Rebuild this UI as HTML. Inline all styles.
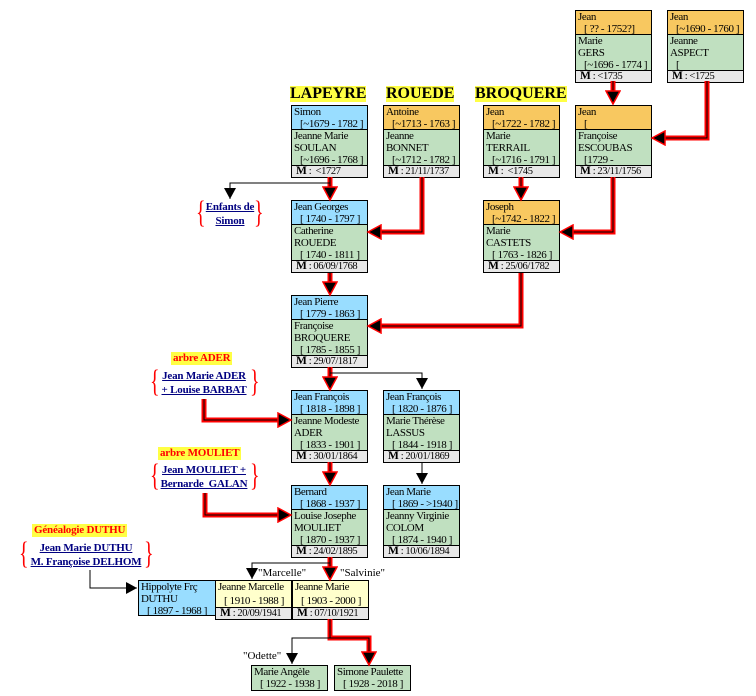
<!DOCTYPE html>
<html><head><meta charset="utf-8"><style>
body{margin:0;width:756px;height:696px;background:#fff;position:relative;overflow:hidden;font-family:"Liberation Serif",serif;font-size:11px;line-height:12px;color:#000;letter-spacing:-0.4px}
.b{position:absolute;width:75px;border:1px solid #000;background:#c0e0c0}
.b div{padding-left:2px;white-space:nowrap;overflow:hidden}
.bl{background:#99ddff}.or{background:#f8c860}.ye{background:#ffffcc}
.h{height:23px;border-bottom:1px solid #000}
.g{height:35px;border-bottom:1px solid #000}
.m{height:11px;background:#e8e8e8;padding-left:4px!important;font-size:10.5px;line-height:11px}
.m b{font-size:11.5px}
.t{position:absolute;font-weight:bold;font-size:16px;line-height:16px;background:#ffff44;letter-spacing:0}
.lnk{position:absolute;text-align:center;font-weight:bold;color:#000080;text-decoration:underline;font-size:11px;line-height:14px;letter-spacing:-0.2px}
.br{position:absolute;color:#ff0000;font-size:20px;line-height:20px;transform:scaleY(1.6);transform-origin:top}
.yt{position:absolute;background:#ffff44;color:#ff0000;font-weight:bold;font-size:11px;line-height:13px;padding:0 2px;letter-spacing:-0.2px}
.q{position:absolute;font-size:11px;letter-spacing:0}
svg{position:absolute;left:0;top:0}
</style></head><body>

<div class="t" style="left:290px;top:86px">LAPEYRE</div>
<div class="t" style="left:386px;top:86px">ROUEDE</div>
<div class="t" style="left:475px;top:86px">BROQUERE</div>

<div class="b" style="left:575px;top:10px"><div class="h or">Jean<br><span style="padding-left:6px">[ ?? - 1752?]</span></div><div class="g">Marie<br>GERS<br><span style="padding-left:6px">[~1696 - 1774 ]</span></div><div class="m"><b>M</b> : &lt;1735</div></div>
<div class="b" style="left:667px;top:10px"><div class="h or">Jean<br><span style="padding-left:6px">[~1690 - 1760 ]</span></div><div class="g">Jeanne<br>ASPECT<br><span style="padding-left:6px">[</span></div><div class="m"><b>M</b> : &lt;1725</div></div>

<div class="b" style="left:291px;top:105px"><div class="h bl">Simon<br><span style="padding-left:6px">[~1679 - 1782 ]</span></div><div class="g">Jeanne Marie<br>SOULAN<br><span style="padding-left:6px">[~1696 - 1768 ]</span></div><div class="m"><b>M</b> :&nbsp; &lt;1727</div></div>
<div class="b" style="left:383px;top:105px"><div class="h or">Antoine<br><span style="padding-left:6px">[~1713 - 1763 ]</span></div><div class="g">Jeanne<br>BONNET<br><span style="padding-left:6px">[~1712 - 1782 ]</span></div><div class="m"><b>M</b> : 21/11/1737</div></div>
<div class="b" style="left:483px;top:105px"><div class="h or">Jean<br><span style="padding-left:6px">[~1722 - 1782 ]</span></div><div class="g">Marie<br>TERRAIL<br><span style="padding-left:6px">[~1716 - 1791 ]</span></div><div class="m"><b>M</b> :&nbsp; &lt;1745</div></div>
<div class="b" style="left:575px;top:105px"><div class="h or">Jean<br><span style="padding-left:6px">[</span></div><div class="g">Françoise<br>ESCOUBAS<br><span style="padding-left:6px">[1729 -</span></div><div class="m"><b>M</b> : 23/11/1756</div></div>

<div class="b" style="left:291px;top:200px"><div class="h bl">Jean Georges<br><span style="padding-left:6px">[ 1740 - 1797 ]</span></div><div class="g">Catherine<br>ROUEDE<br><span style="padding-left:6px">[ 1740 - 1811 ]</span></div><div class="m"><b>M</b> : 06/09/1768</div></div>
<div class="b" style="left:483px;top:200px"><div class="h or">Joseph<br><span style="padding-left:6px">[~1742 - 1822 ]</span></div><div class="g">Marie<br>CASTETS<br><span style="padding-left:6px">[ 1763 - 1826 ]</span></div><div class="m"><b>M</b> : 25/06/1782</div></div>

<div class="b" style="left:291px;top:295px"><div class="h bl">Jean Pierre<br><span style="padding-left:6px">[ 1779 - 1863 ]</span></div><div class="g">Françoise<br>BROQUERE<br><span style="padding-left:6px">[ 1785 - 1855 ]</span></div><div class="m"><b>M</b> : 29/07/1817</div></div>

<div class="b" style="left:291px;top:390px"><div class="h bl">Jean François<br><span style="padding-left:6px">[ 1818 - 1898 ]</span></div><div class="g">Jeanne Modeste<br>ADER<br><span style="padding-left:6px">[ 1833 - 1901 ]</span></div><div class="m"><b>M</b> : 30/01/1864</div></div>
<div class="b" style="left:383px;top:390px"><div class="h bl">Jean François<br><span style="padding-left:6px">[ 1820 - 1876 ]</span></div><div class="g">Marie Thérèse<br>LASSUS<br><span style="padding-left:6px">[ 1844 - 1918 ]</span></div><div class="m"><b>M</b> : 20/01/1869</div></div>

<div class="b" style="left:291px;top:485px"><div class="h bl">Bernard<br><span style="padding-left:6px">[ 1868 - 1937 ]</span></div><div class="g">Louise Josephe<br>MOULIET<br><span style="padding-left:6px">[ 1870 - 1937 ]</span></div><div class="m"><b>M</b> : 24/02/1895</div></div>
<div class="b" style="left:383px;top:485px"><div class="h bl">Jean Marie<br><span style="padding-left:6px">[ 1869 - &gt;1940 ]</span></div><div class="g">Jeanny Virginie<br>COLOM<br><span style="padding-left:6px">[ 1874 - 1940 ]</span></div><div class="m"><b>M</b> : 10/06/1894</div></div>

<div style="position:absolute;left:138px;top:580px;width:75px;height:34px;border:1px solid #000;background:#99ddff;padding-left:2px">Hippolyte Frç<br>DUTHU<br><span style="padding-left:6px">[ 1897 - 1968 ]</span></div>
<div class="b" style="left:215px;top:580px;background:#ffffcc"><div style="height:26px;border-bottom:1px solid #000">Jeanne Marcelle<br><span style="padding-left:6px;position:relative;top:2px">[ 1910 - 1988 ]</span></div><div class="m"><b>M</b> : 20/09/1941</div></div>
<div class="b" style="left:292px;top:580px;background:#ffffcc"><div style="height:26px;border-bottom:1px solid #000">Jeanne Marie<br><span style="padding-left:6px;position:relative;top:2px">[ 1903 - 2000 ]</span></div><div class="m"><b>M</b> : 07/10/1921</div></div>

<div class="b" style="left:251px;top:665px;height:24px"><div>Marie Angèle<br><span style="padding-left:6px">[ 1922 - 1938 ]</span></div></div>
<div class="b" style="left:334px;top:665px;height:24px"><div>Simone Paulette<br><span style="padding-left:6px">[ 1928 - 2018 ]</span></div></div>

<div class="br" style="left:196px;top:197px">{</div><div class="br" style="left:254px;top:197px">}</div>
<div class="lnk" style="left:198px;top:200px;width:64px">Enfants de<br>Simon</div>

<div class="yt" style="left:171px;top:352px">arbre ADER</div>
<div class="br" style="left:150px;top:366px">{</div><div class="br" style="left:250px;top:366px">}</div>
<div class="lnk" style="left:152px;top:369px;width:104px">Jean Marie ADER<br>+ Louise BARBAT</div>

<div class="yt" style="left:158px;top:447px">arbre MOULIET</div>
<div class="br" style="left:150px;top:460px">{</div><div class="br" style="left:250px;top:460px">}</div>
<div class="lnk" style="left:152px;top:463px;width:104px">Jean MOULIET +<br>Bernarde&nbsp; GALAN</div>

<div class="yt" style="left:32px;top:524px">Généalogie DUTHU</div>
<div class="br" style="left:19px;top:538px">{</div><div class="br" style="left:144px;top:538px">}</div>
<div class="lnk" style="left:24px;top:541px;width:124px">Jean Marie DUTHU<br>M. Françoise DELHOM</div>

<div class="q" style="left:258px;top:567px">"Marcelle"</div>
<div class="q" style="left:340px;top:567px">"Salvinie"</div>
<div class="q" style="left:243px;top:650px">"Odette"</div>

<svg width="756" height="696">
<defs>
<marker id="ra" markerUnits="userSpaceOnUse" markerWidth="16" markerHeight="16" refX="14" refY="8" orient="auto"><path d="M1,1 L14,8 L1,15 Z" fill="#000" stroke="#f00" stroke-width="1.5"/></marker>
<marker id="ba" markerUnits="userSpaceOnUse" markerWidth="12" markerHeight="12" refX="11" refY="6" orient="auto"><path d="M0,0 L11,6 L0,12 Z" fill="#000"/></marker>
</defs>
<g fill="none" stroke-linejoin="miter">
<g stroke="#f00" stroke-width="5">
<path d="M613,81 V92"/><path d="M707,81 V138 H664"/>
<path d="M330,177 V188"/><path d="M422,177 V232 H380"/>
<path d="M521,177 V188"/><path d="M613,177 V232 H572"/>
<path d="M330,273 V283"/><path d="M521,273 V326 H380"/>
<path d="M330,367 V378"/><path d="M204,399 V420 H279"/>
<path d="M330,462 V473"/><path d="M205,493 V515 H279"/>
<path d="M330,557 V568"/><path d="M330,619 V638 H369 V653"/>
</g>
<g stroke="#000" stroke-width="1">
<path d="M613,81 V104" marker-end="url(#ra)"/><path d="M707,81 V138 H652" marker-end="url(#ra)"/>
<path d="M330,177 V200" marker-end="url(#ra)"/><path d="M422,177 V232 H368" marker-end="url(#ra)"/>
<path d="M521,177 V200" marker-end="url(#ra)"/><path d="M613,177 V232 H560" marker-end="url(#ra)"/>
<path d="M330,273 V295" marker-end="url(#ra)"/><path d="M521,273 V326 H368" marker-end="url(#ra)"/>
<path d="M330,367 V390" marker-end="url(#ra)"/><path d="M204,399 V420 H291" marker-end="url(#ra)"/>
<path d="M330,462 V485" marker-end="url(#ra)"/><path d="M205,493 V515 H291" marker-end="url(#ra)"/>
<path d="M330,557 V580" marker-end="url(#ra)"/><path d="M330,619 V638 H369 V665" marker-end="url(#ra)"/>
<path d="M330,183 H230 V199" marker-end="url(#ba)"/>
<path d="M330,373 H422 V389" marker-end="url(#ba)"/>
<path d="M422,462 V484" marker-end="url(#ba)"/>
<path d="M330,563 H252 V579" marker-end="url(#ba)"/>
<path d="M90,570 V588 H137" marker-end="url(#ba)"/>
<path d="M330,638 H292 V664" marker-end="url(#ba)"/>
</g>
</g>
</svg>
</body></html>
